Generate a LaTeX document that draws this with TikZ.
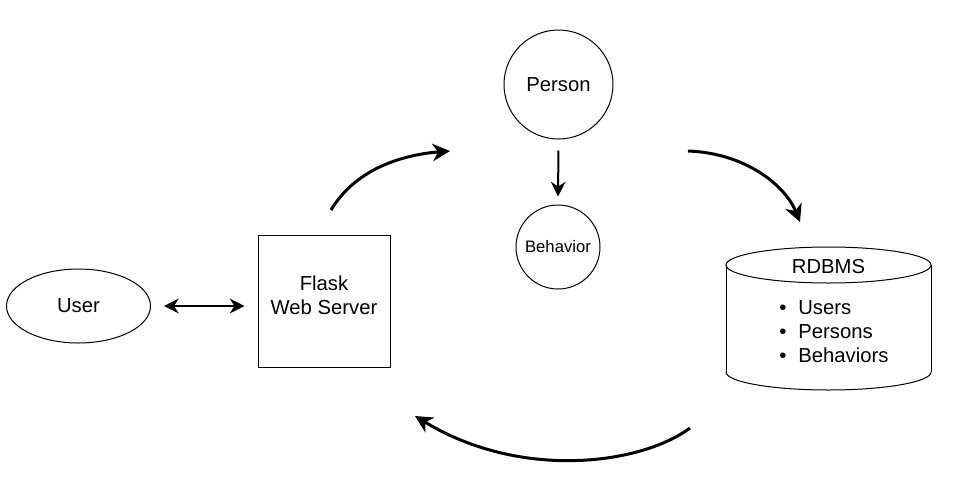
\documentclass[tikz,border=0pt]{standalone}
\usepackage{fontspec}
\setmainfont{Liberation Sans}
\usetikzlibrary{arrows.meta,shapes.geometric}
\begin{document}
\begin{tikzpicture}[x=0.75pt,y=-0.75pt,
  >={Stealth[length=11pt,width=11pt,inset=3.5pt]},
  thin line/.style={draw=black,line width=0.75pt},
  bigtxt/.style={font=\fontsize{15.2pt}{18pt}\selectfont},
  smalltxt/.style={font=\fontsize{12.5pt}{15pt}\selectfont},
  straightarrow/.style={line width=1.5pt},
  curvearrow/.style={line width=2.25pt,-{Stealth[length=13pt,width=13pt,inset=4pt]}}]
\useasboundingbox[fill=white] (0,0) rectangle (972,497);

% nodes
\node[thin line,ellipse,minimum width=108pt,minimum height=55.5pt,inner sep=0pt,bigtxt] (user) at (78.5,306) {User};
\node[thin line,rectangle,minimum width=99pt,minimum height=99pt,inner sep=0pt] (flask) at (324,301) {};
\node[bigtxt,align=center] (flasktxt) at (324,295) {Flask\\Web Server};
\node[thin line,circle,minimum size=81.75pt,inner sep=0pt,bigtxt] (person) at (558.5,84.5) {Person};
\node[thin line,circle,minimum size=63pt,inner sep=0pt,smalltxt] (behavior) at (558,247) {Behavior};

% database cylinder
\coordinate (dbtl) at (726,265);
\coordinate (dbbl) at (726,372);
\coordinate (dbtr) at (931,265);
\coordinate (dbbr) at (931,372);
\draw[thin line] (dbtl) -- (dbbl);
\draw[thin line] (dbtr) -- (dbbr);
\draw[thin line] (828.5,265) ellipse (102.5 and 18);
\begin{scope}
  \clip (700,372) rectangle (960,400);
  \draw[thin line] (828.5,372) ellipse (102.5 and 18);
\end{scope}
\node[bigtxt] (dbtitle) at (828.5,267) {RDBMS};
\node[bigtxt,anchor=west,align=left,inner sep=0pt] (dbitems) at (779,332)
  {\textbullet\hspace{9pt}Users\\\textbullet\hspace{9pt}Persons\\\textbullet\hspace{9pt}Behaviors};

% straight connectors
\draw[straightarrow,<->,shorten <=9.75pt,shorten >=9.75pt] (user.east) -- (user.east -| flask.west);
\draw[straightarrow,->,shorten <=8.25pt,shorten >=6pt] (person.south) -- (behavior.north);

% curved arrows
\coordinate (c1s) at (331,210);
\coordinate (c1e) at (450,151);
\coordinate (c2s) at (688,151);
\coordinate (c2e) at (800,222);
\coordinate (c3s) at (690,428);
\coordinate (c3e) at (415,416);
\draw[curvearrow] (c1s) .. controls (355,170) and (400,155) .. (c1e);
\draw[curvearrow] (c2s) .. controls (745,153) and (785,185) .. (c2e);
\draw[curvearrow] (c3s) .. controls (640,465) and (520,480) .. (c3e);
\end{tikzpicture}
\end{document}
